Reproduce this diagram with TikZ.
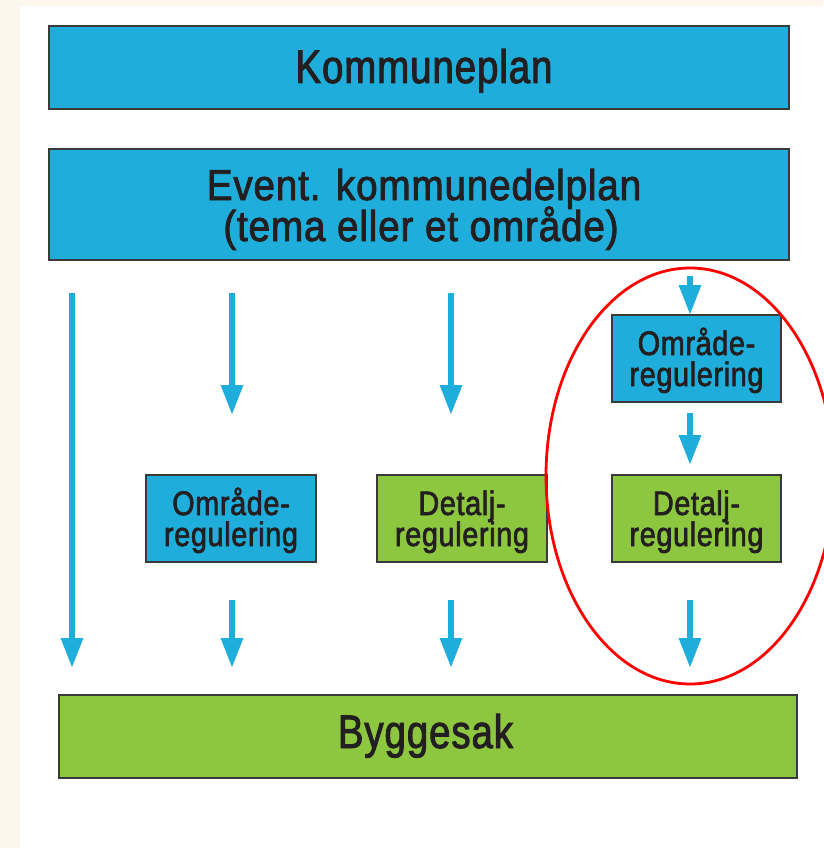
\documentclass[tikz,border=0pt]{standalone}
\usepackage{fontspec}
\setmainfont{Liberation Sans}
\newfontfamily\fbig{Liberation Sans}[FakeStretch=0.817, FakeBold=2, LetterSpace=2]
\newfontfamily\fmid{Liberation Sans}[FakeStretch=0.898, FakeBold=2, LetterSpace=2]
\newfontfamily\fsmall{Liberation Sans}[FakeStretch=0.845, FakeBold=2, LetterSpace=2]
\usetikzlibrary{arrows.meta}
\definecolor{cream}{HTML}{FDF6EC}
\definecolor{boxblue}{HTML}{1FAEDB}
\definecolor{boxgreen}{HTML}{8DC63F}
\definecolor{boxedge}{HTML}{3A3A3A}
\definecolor{txt}{HTML}{231F20}
\begin{document}
\begin{tikzpicture}[x=1pt,y=-1pt,
  box/.style={draw=boxedge, line width=1.8pt, inner sep=0pt},
  bluebox/.style={box, fill=boxblue},
  greenbox/.style={box, fill=boxgreen},
  lbl/.style={anchor=base, inner sep=0pt, text=txt},
  bigtext/.style={lbl, font=\fbig\fontsize{47}{50}\selectfont},
  midtext/.style={lbl, font=\fmid\fontsize{43}{47}\selectfont},
  smalltext/.style={lbl, font=\fsmall\fontsize{34}{32}\selectfont},
  arr/.style={draw=boxblue, line width=6pt, -{Triangle[width=21pt,length=30pt]}},
  ring/.style={draw=red, line width=2.8pt}
]
\useasboundingbox (0,0) rectangle (823,848);
\fill[cream] (0,0) rectangle (823,848);
\fill[white] (20,6) rectangle (823,848);

% boxes
\node[bluebox, minimum width=740pt, minimum height=83pt] (kp) at (419,67.5) {};
\node[bluebox, minimum width=740pt, minimum height=111pt] (kdp) at (419,204.5) {};
\node[bluebox, minimum width=169pt, minimum height=87pt] (or2) at (696.5,358.5) {};
\node[greenbox, minimum width=169pt, minimum height=87pt] (dr2) at (696.5,518.5) {};
\node[bluebox, minimum width=170pt, minimum height=87pt] (or1) at (231,518.5) {};
\node[greenbox, minimum width=170pt, minimum height=87pt] (dr1) at (462,518.5) {};
\node[greenbox, minimum width=738pt, minimum height=83pt] (bs) at (428,736.5) {};

% texts
\node[bigtext] (kpt) at (424,83) {Kommuneplan};
\node[midtext] (kdpt1) at (424,200) {Event. kommunedelplan};
\node[midtext] (kdpt2) at (421,241) {(tema eller et område)};
\node[smalltext] (or2t1) at (696.5,355) {Område-};
\node[smalltext] (or2t2) at (696.5,386) {regulering};
\node[smalltext] (dr2t1) at (696.5,515) {Detalj-};
\node[smalltext] (dr2t2) at (696.5,546) {regulering};
\node[smalltext] (or1t1) at (231,515) {Område-};
\node[smalltext] (or1t2) at (231,546) {regulering};
\node[smalltext] (dr1t1) at (462,515) {Detalj-};
\node[smalltext] (dr1t2) at (462,546) {regulering};
\node[bigtext] (bst) at (425.5,748) {Byggesak};

% arrow end points
\coordinate (a1s) at (72,293);  \coordinate (a1e) at (72,668);
\coordinate (a2s) at (232,293); \coordinate (a2e) at (232,415);
\coordinate (a3s) at (451,293); \coordinate (a3e) at (451,415);
\coordinate (a4s) at (690,276); \coordinate (a4e) at (690,315);
\coordinate (a5s) at (690,413); \coordinate (a5e) at (690,465);
\coordinate (b2s) at (232,600); \coordinate (b2e) at (232,668);
\coordinate (b3s) at (451,600); \coordinate (b3e) at (451,668);
\coordinate (b4s) at (690,600); \coordinate (b4e) at (690,668);

\draw[arr] (a1s) -- (a1e);
\draw[arr] (a2s) -- (a2e);
\draw[arr] (a3s) -- (a3e);
\draw[arr] (a4s) -- (a4e);
\draw[arr] (a5s) -- (a5e);
\draw[arr] (b2s) -- (b2e);
\draw[arr] (b3s) -- (b3e);
\draw[arr] (b4s) -- (b4e);

\draw[ring] (690,476) ellipse [x radius=144, y radius=208];
\end{tikzpicture}
\end{document}
